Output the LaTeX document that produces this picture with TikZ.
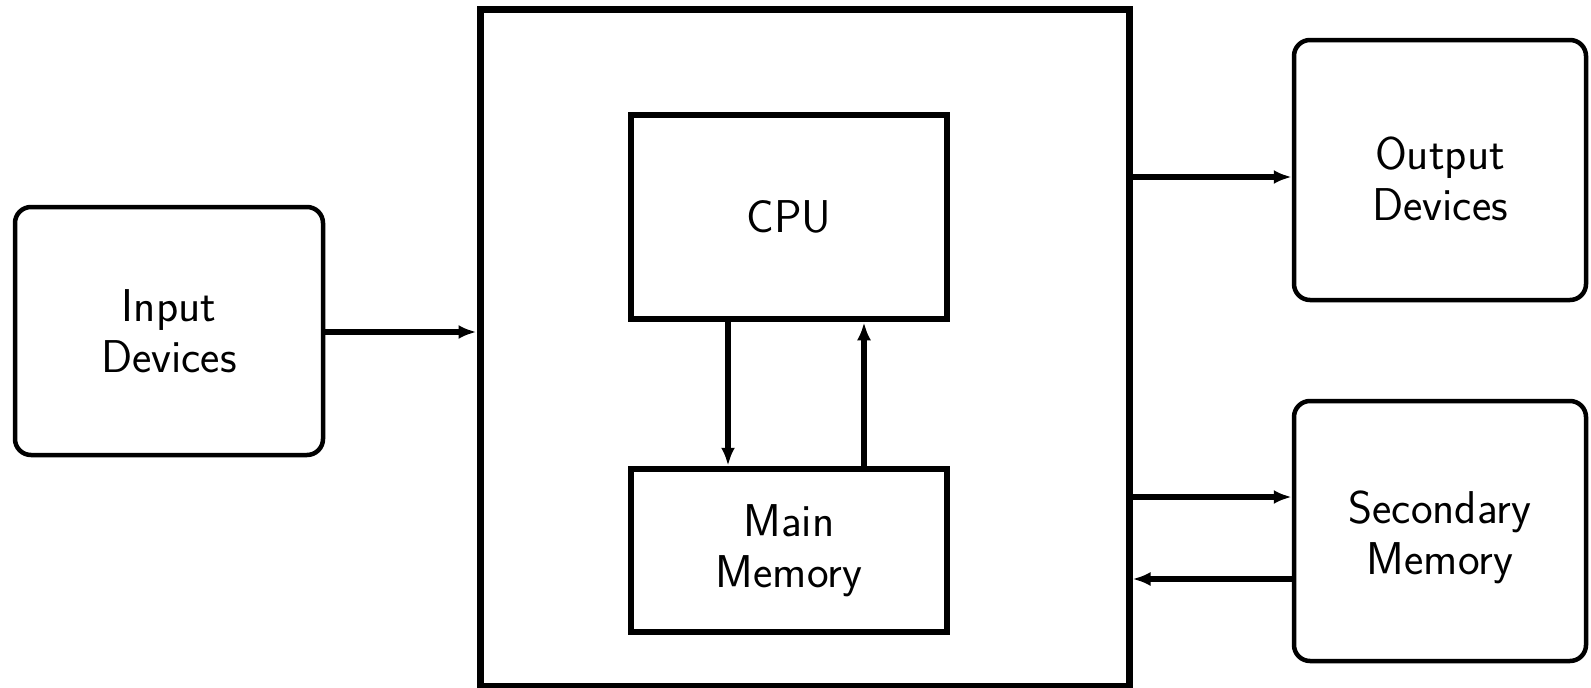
\documentclass[tikz,border=0pt]{standalone}
\usepackage{tikz}
\usetikzlibrary{arrows.meta, positioning}
\tikzset{
	outerbox/.style={draw, line width=7pt, minimum width=649pt, minimum height=677pt},
	unitbox/.style={draw, line width=6.5pt, minimum width=316pt, align=center},
	devicebox/.style={draw, line width=4.5pt, rounded corners=16pt, align=center},
	boxtext/.style={align=center},
	flow/.style={line width=6pt, -{Latex[length=18pt, width=14pt]}}
}

\begin{document}
\begin{tikzpicture}[x=1pt, y=-1pt, every node/.style={font=\sffamily\fontsize{46}{51}\selectfont}]
	\useasboundingbox (0,0) rectangle (1591,688);
	\node[outerbox] (computer) at (804.5,347.5) {};
	\node[unitbox, minimum height=204pt] (cpu) at (789,217) {CPU};
	\node[unitbox, minimum height=163pt] (mainmem) at (789,550.5) {Main\\Memory};
	\node[devicebox, minimum width=308pt, minimum height=248pt] (input) at (169,331) {Input\\Devices};
	\node[devicebox, minimum width=292pt, minimum height=260pt,
		label={[boxtext, yshift=-9pt]center:Output\\Devices}] (output) at (1440,170) {};
	\node[devicebox, minimum width=292pt, minimum height=260pt,
		label={[boxtext, yshift=-6pt]center:Secondary\\Memory}] (secmem) at (1440,531) {};
	\draw[flow] ([yshift=-1pt]input.east) -- ([yshift=-1pt]input.east -| computer.west);
	\draw[flow] ([yshift=-7pt]output.west -| computer.east) -- ([yshift=-7pt]output.west);
	\draw[flow] ([yshift=34pt]secmem.west -| computer.east) -- ([yshift=34pt]secmem.west);
	\draw[flow] ([yshift=-48pt]secmem.west) -- ([yshift=-48pt]secmem.west -| computer.east);
	\draw[flow] ([xshift=-61pt]cpu.south) -- ([xshift=-61pt]mainmem.north);
	\draw[flow] ([xshift=75pt]mainmem.north) -- ([xshift=75pt]cpu.south);
\end{tikzpicture}
\end{document}
